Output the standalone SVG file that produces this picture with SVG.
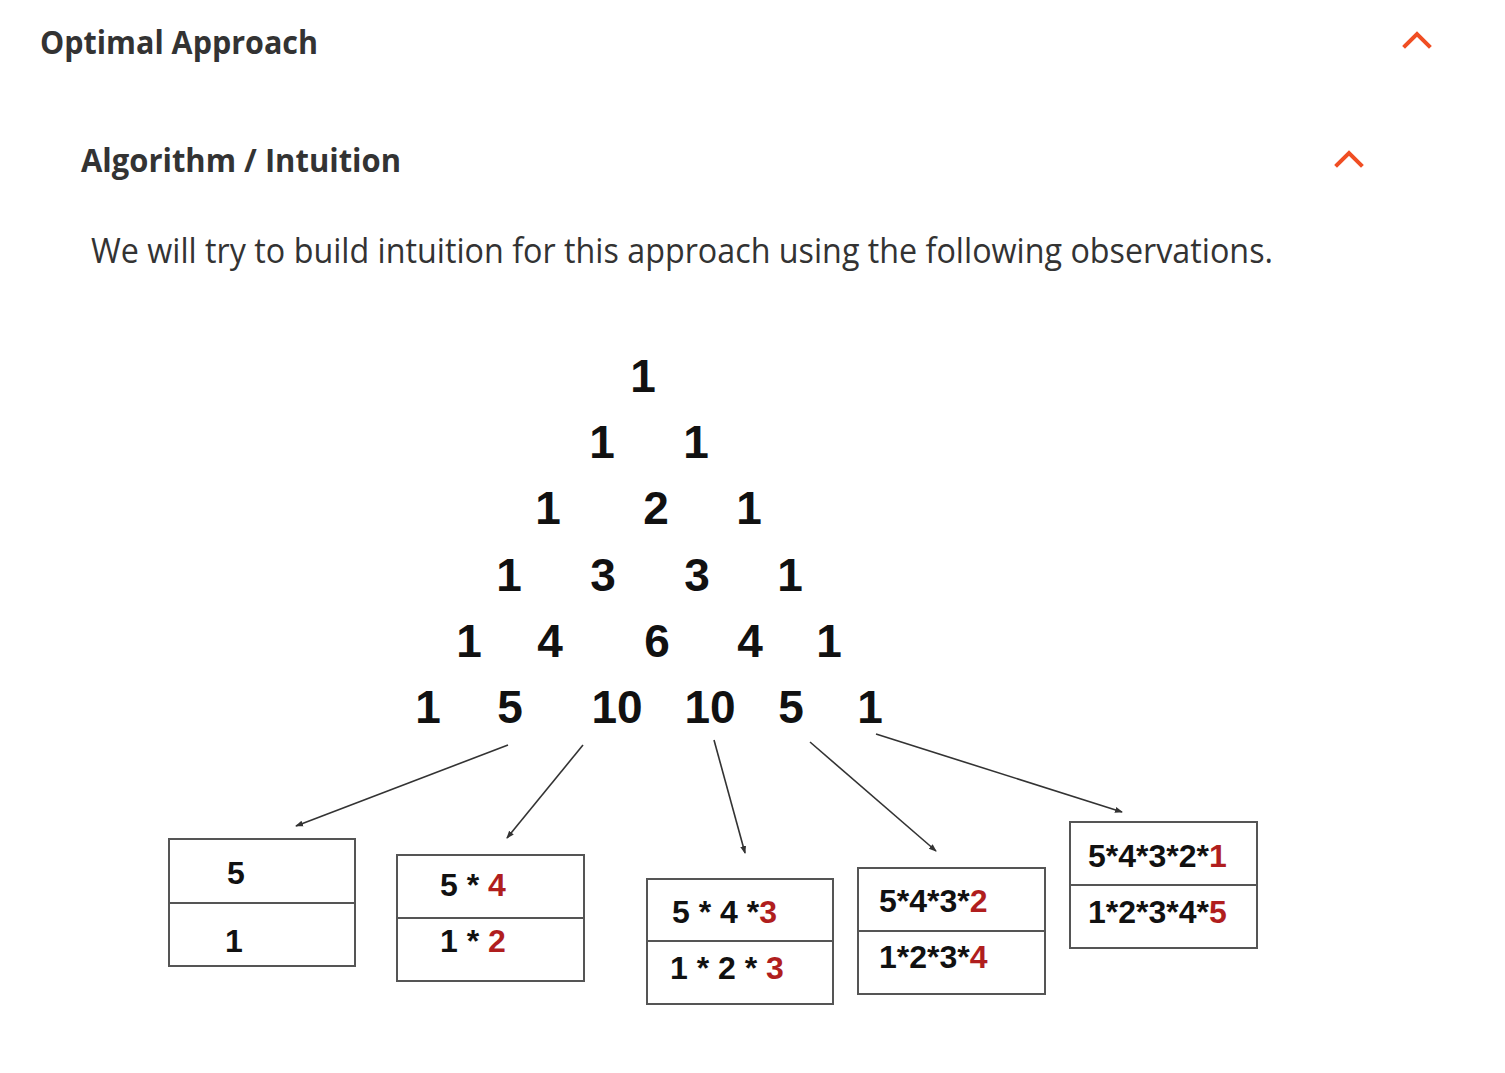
<svg xmlns="http://www.w3.org/2000/svg" width="1505" height="1073" viewBox="0 0 1505 1073">
<style>
.h{font-family:"Open Sans","Noto Sans",sans-serif;font-weight:700;fill:#333}
.p{font-family:"Open Sans","Noto Sans",sans-serif;font-weight:400;fill:#333;font-size:34px}
.n{font-family:"Liberation Sans",Arial,sans-serif;font-weight:700;font-size:46px;fill:#111;text-anchor:middle}
.b{font-family:"Liberation Sans",Arial,sans-serif;font-weight:700;font-size:32px;fill:#111}
.r{fill:#b01e1e}
.box{fill:#fff;stroke:#555;stroke-width:2}
.chev{fill:none;stroke:#f04e23;stroke-width:4;stroke-linecap:square}
.arr{stroke:#333;stroke-width:1.6;fill:none;marker-end:url(#ah)}
</style>
<defs>
<marker id="ah" markerWidth="8" markerHeight="8" refX="7" refY="4" orient="auto" markerUnits="userSpaceOnUse">
<path d="M0,1 L8,4 L0,7 Z" fill="#333"/>
</marker>
</defs>
<rect width="1505" height="1073" fill="#fff"/>
<g id="header1">
<text class="h" x="40" y="54" font-size="32" textLength="278" lengthAdjust="spacingAndGlyphs">Optimal Approach</text>
<path class="chev" d="M1405,46 L1417,34 L1429,46"/>
</g>
<g id="header2">
<text class="h" x="81" y="172" font-size="32" textLength="320" lengthAdjust="spacingAndGlyphs">Algorithm / Intuition</text>
<path class="chev" d="M1337,165 L1349,153 L1361,165"/>
</g>
<g id="intro">
<text class="p" x="91" y="263" textLength="1182" lengthAdjust="spacingAndGlyphs">We will try to build intuition for this approach using the following observations.</text>
</g>
<g id="triangle">
<text class="n" x="643" y="392">1</text>
<text class="n" x="602" y="458">1</text><text class="n" x="696" y="458">1</text>
<text class="n" x="548" y="524">1</text><text class="n" x="656" y="524">2</text><text class="n" x="749" y="524">1</text>
<text class="n" x="509" y="591">1</text><text class="n" x="603" y="591">3</text><text class="n" x="697" y="591">3</text><text class="n" x="790" y="591">1</text>
<text class="n" x="469" y="657">1</text><text class="n" x="550" y="657">4</text><text class="n" x="657" y="657">6</text><text class="n" x="750" y="657">4</text><text class="n" x="829" y="657">1</text>
<text class="n" x="428" y="723">1</text><text class="n" x="510" y="723">5</text><text class="n" x="617" y="723">10</text><text class="n" x="710" y="723">10</text><text class="n" x="791" y="723">5</text><text class="n" x="870" y="723">1</text>
</g>
<g id="connectors">
<line class="arr" x1="508" y1="745" x2="296" y2="826"/>
<line class="arr" x1="583" y1="745" x2="507" y2="838"/>
<line class="arr" x1="714" y1="740" x2="745" y2="853"/>
<line class="arr" x1="810" y1="742" x2="936" y2="851"/>
<line class="arr" x1="876" y1="734" x2="1122" y2="812"/>
</g>
<g id="box1">
<rect class="box" x="169" y="839" width="186" height="127"/>
<line class="box" x1="169" y1="903" x2="355" y2="903"/>
<text class="b" x="227" y="884">5</text>
<text class="b" x="225" y="952">1</text>
</g>
<g id="box2">
<rect class="box" x="397" y="855" width="187" height="126"/>
<line class="box" x1="397" y1="918" x2="584" y2="918"/>
<text class="b" x="440" y="896">5 * <tspan class="r">4</tspan></text>
<text class="b" x="440" y="952">1 * <tspan class="r">2</tspan></text>
</g>
<g id="box3">
<rect class="box" x="647" y="879" width="186" height="125"/>
<line class="box" x1="647" y1="941" x2="833" y2="941"/>
<text class="b" x="672" y="923">5 * 4 *<tspan class="r">3</tspan></text>
<text class="b" x="670" y="979">1 * 2 * <tspan class="r">3</tspan></text>
</g>
<g id="box4">
<rect class="box" x="858" y="868" width="187" height="126"/>
<line class="box" x1="858" y1="931" x2="1045" y2="931"/>
<text class="b" x="879" y="912">5*4*3*<tspan class="r">2</tspan></text>
<text class="b" x="879" y="968">1*2*3*<tspan class="r">4</tspan></text>
</g>
<g id="box5">
<rect class="box" x="1070" y="822" width="187" height="126"/>
<line class="box" x1="1070" y1="885" x2="1257" y2="885"/>
<text class="b" x="1088" y="867">5*4*3*2*<tspan class="r">1</tspan></text>
<text class="b" x="1088" y="923">1*2*3*4*<tspan class="r">5</tspan></text>
</g>
</svg>
